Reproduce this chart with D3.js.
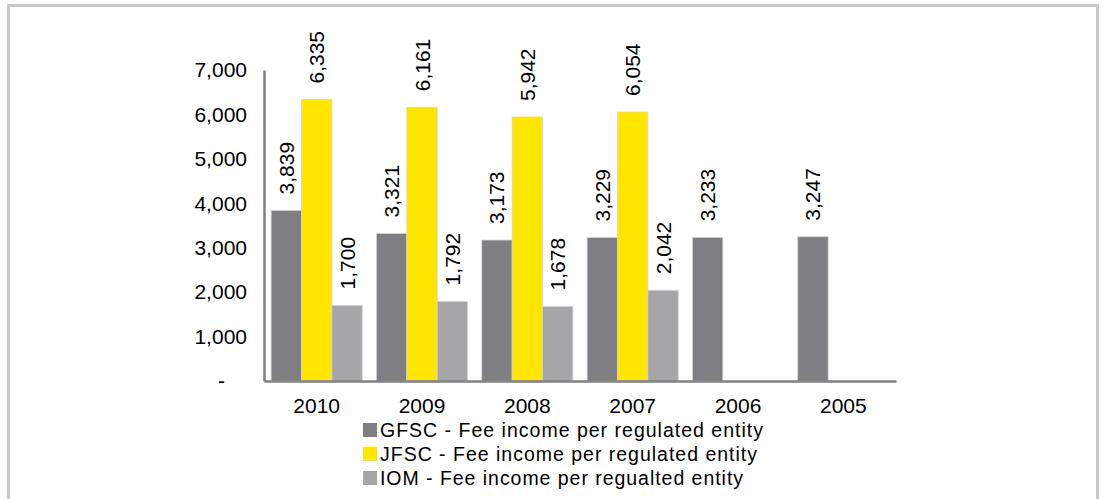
<!DOCTYPE html>
<html>
<head>
<meta charset="utf-8">
<script src="https://cdn.jsdelivr.net/npm/d3@7"></script>
<style>
  html, body { margin: 0; padding: 0; background: #ffffff; }
  svg { display: block; font-family: "Liberation Sans", Arial, sans-serif; }
</style>
</head>
<body>
<svg id="chart" width="1104" height="499"></svg>
<script>
// Fee income per regulated entity, by year
const years = ["2010", "2009", "2008", "2007", "2006", "2005"];
const gfsc = [3839, 3321, 3173, 3229, 3233, 3247];
const jfsc = [6335, 6161, 5942, 6054, null, null];
const iom  = [1700, 1792, 1678, 2042, null, null];
const seriesNames = [
  "GFSC - Fee income per regulated entity",
  "JFSC - Fee income per regulated entity",
  "IOM - Fee income per regualted entity"
];
const legendWidths = [383, 377, 363];
const seriesColors = ["#7f7e83", "#ffe600", "#a6a6a8"];
const yTicks = [0, 1000, 2000, 3000, 4000, 5000, 6000, 7000];

const svg = d3.select("#chart");

// outer frame
svg.append("rect")
  .attr("x", 8.5).attr("y", 5.5)
  .attr("width", 1089).attr("height", 500)
  .attr("fill", "none").attr("stroke", "#c8c8c8").attr("stroke-width", 3);

const plotLeft = 264, plotRight = 896, plotTop = 70, plotBottom = 381;

const y = d3.scaleLinear().domain([0, 7000]).range([plotBottom, plotTop]);
const x0 = d3.scaleBand().domain(years).range([plotLeft, plotRight])
  .paddingInner(0.135).paddingOuter(0.0675);
const x1 = d3.scaleBand().domain(d3.range(3)).range([0, x0.bandwidth()]);

const series = [gfsc, jfsc, iom];
const fmt = d3.format(",");

// bars
series.forEach((vals, s) => {
  const data = years.map((yr, i) => ({ yr, v: vals[i] })).filter(d => d.v != null);
  svg.append("g").selectAll("rect").data(data).join("rect")
    .attr("x", d => x0(d.yr) + x1(s))
    .attr("y", d => y(d.v))
    .attr("width", x1.bandwidth())
    .attr("height", d => y(0) - y(d.v))
    .attr("fill", seriesColors[s])
    .attr("stroke", "#d4d4d4").attr("stroke-width", 0.8);

  // value labels, rotated
  svg.append("g").selectAll("text").data(data).join("text")
    .attr("transform", d => `translate(${x0(d.yr) + x1(s) + x1.bandwidth() / 2 + 7.5},${y(d.v) - 16}) rotate(-90)`)
    .attr("font-size", 21)
    .attr("fill", "#000")
    .text(d => fmt(d.v));
});

// y axis
const yAxis = d3.axisLeft(y).tickValues(yTicks).tickSize(0).tickPadding(17)
  .tickFormat(d => d === 0 ? "-" : fmt(d));
const gy = svg.append("g").attr("transform", `translate(${plotLeft},0)`).call(yAxis);
gy.select(".domain").attr("stroke", "#808080").attr("stroke-width", 2.5);
gy.selectAll("text").attr("font-size", 21).attr("fill", "#000")
  .attr("font-family", "Liberation Sans, Arial, sans-serif");
gy.selectAll(".tick").filter(d => d === 0).select("text").attr("dx", -22);

// x axis
const xAxis = d3.axisBottom(x0).tickSize(0).tickPadding(17);
const gx = svg.append("g").attr("transform", `translate(0,${plotBottom})`).call(xAxis);
gx.select(".domain").attr("stroke", "#808080").attr("stroke-width", 2.5);
gx.selectAll("text").attr("font-size", 21).attr("fill", "#000")
  .attr("font-family", "Liberation Sans, Arial, sans-serif");

// legend
const legend = svg.append("g");
seriesNames.forEach((name, i) => {
  const ly = 430 + i * 24;
  legend.append("rect")
    .attr("x", 363).attr("y", ly - 7)
    .attr("width", 14).attr("height", 14)
    .attr("fill", seriesColors[i]);
  legend.append("text")
    .attr("x", 380).attr("y", ly + 7)
    .attr("font-size", 19.5)
    .attr("fill", "#000")
    .attr("textLength", legendWidths[i])
    .attr("lengthAdjust", "spacing")
    .text(name);
});
</script>
</body>
</html>
